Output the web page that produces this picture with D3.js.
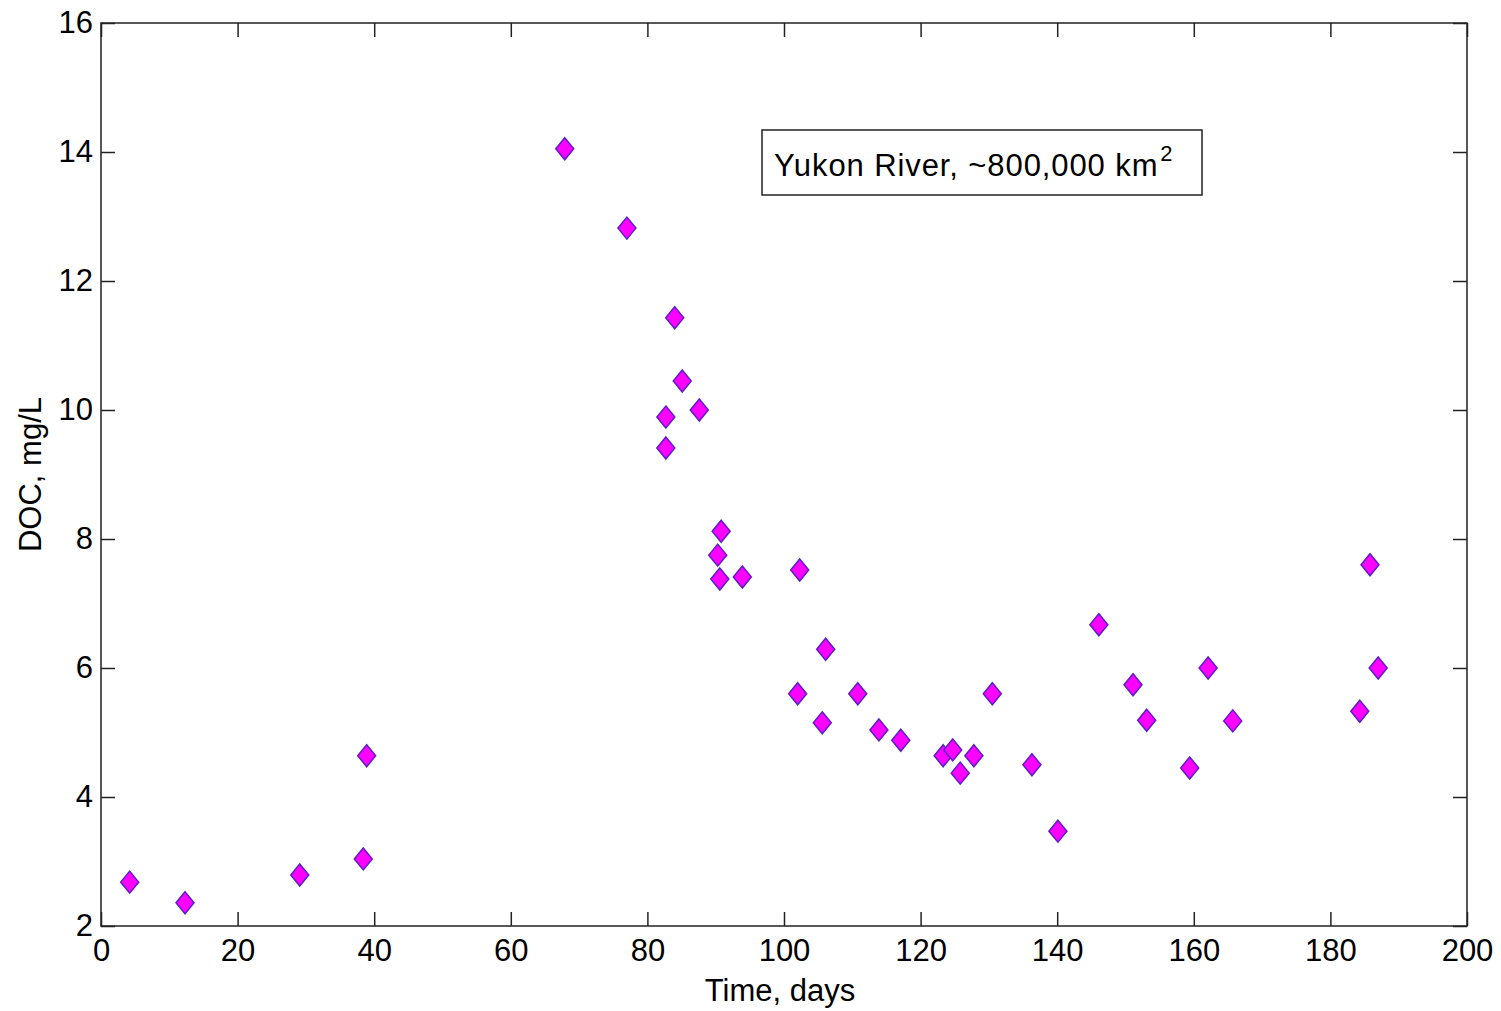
<!DOCTYPE html>
<html>
<head>
<meta charset="utf-8">
<script src="https://cdn.jsdelivr.net/npm/d3@7"></script>
<style>
  html, body { margin: 0; padding: 0; background: #fff; }
  svg { display: block; font-family: "Liberation Sans", Arial, sans-serif; }
</style>
</head>
<body>
<svg id="chart" width="1501" height="1011"></svg>
<script>
// Sampling day and dissolved organic carbon concentration
const days = [4.2, 12.3, 29.1, 38.4, 38.9, 67.9, 77.0, 84.0, 85.1, 82.7, 87.6, 82.7,
  90.8, 90.3, 90.6, 93.9, 102.3, 102.0, 106.1, 105.6, 110.8, 113.9, 117.1, 123.3,
  124.7, 125.8, 127.8, 130.5, 136.3, 140.1, 146.1, 151.1, 153.1, 159.4, 162.1,
  165.7, 184.3, 185.8, 187.0];
const doc = [2.68, 2.36, 2.79, 3.04, 4.64, 14.05, 12.82, 11.43, 10.45, 9.89, 10.0, 9.41,
  8.12, 7.75, 7.38, 7.41, 7.52, 5.60, 6.29, 5.15, 5.60, 5.04, 4.88, 4.64,
  4.73, 4.37, 4.64, 5.60, 4.50, 3.47, 6.67, 5.74, 5.19, 4.45, 6.00,
  5.18, 5.33, 7.60, 6.00];
const xTicks = [0, 20, 40, 60, 80, 100, 120, 140, 160, 180, 200];
const yTicks = [2, 4, 6, 8, 10, 12, 14, 16];
const legendText = "Yukon River, ~800,000 km";

const svg = d3.select("#chart");
const m = { left: 101, right: 1467, top: 23, bottom: 926 };

const x = d3.scaleLinear().domain([0, 200]).range([m.left, m.right]);
const y = d3.scaleLinear().domain([2, 16]).range([m.bottom, m.top]);

const tickLen = 14;
const fs = 31;

// Frame
svg.append("rect")
  .attr("x", m.left).attr("y", m.top)
  .attr("width", m.right - m.left).attr("height", m.bottom - m.top)
  .attr("fill", "#fff").attr("stroke", "#222").attr("stroke-width", 1.5);

// Axes with inward ticks on all four sides
const axisStyle = g => {
  g.select(".domain").remove();
  g.selectAll(".tick line").attr("stroke", "#222").attr("stroke-width", 1.5);
  g.selectAll(".tick text").attr("fill", "#000").style("font-size", fs + "px")
    .style("font-family", "'Liberation Sans', Arial, sans-serif");
};

svg.append("g").attr("transform", `translate(0,${m.bottom})`)
  .call(d3.axisBottom(x).tickValues(xTicks).tickSize(-tickLen).tickPadding(13).tickFormat(d3.format("d")))
  .call(axisStyle);
svg.append("g").attr("transform", `translate(0,${m.top})`)
  .call(d3.axisTop(x).tickValues(xTicks).tickSize(-tickLen).tickFormat(""))
  .call(axisStyle);
svg.append("g").attr("transform", `translate(${m.left},0)`)
  .call(d3.axisLeft(y).tickValues(yTicks).tickSize(-tickLen).tickPadding(8).tickFormat(d3.format("d")))
  .call(axisStyle);
svg.append("g").attr("transform", `translate(${m.right},0)`)
  .call(d3.axisRight(y).tickValues(yTicks).tickSize(-tickLen).tickFormat(""))
  .call(axisStyle);

// Axis titles
svg.append("text")
  .attr("x", 780).attr("y", 1001)
  .attr("text-anchor", "middle").style("font-size", fs + "px")
  .text("Time, days");
svg.append("text")
  .attr("transform", `translate(41,${(m.top + m.bottom) / 2}) rotate(-90)`)
  .attr("text-anchor", "middle").style("font-size", fs + "px")
  .text("DOC, mg/L");

// Diamond markers
const hw = 9, hh = 11;
svg.append("g").selectAll("path")
  .data(days.map((d, i) => [d, doc[i]]))
  .join("path")
  .attr("d", d => {
    const cx = x(d[0]), cy = y(d[1]);
    return `M${cx},${cy - hh}L${cx + hw},${cy}L${cx},${cy + hh}L${cx - hw},${cy}Z`;
  })
  .attr("fill", "#ff00ff")
  .attr("stroke", "#5b1fc8")
  .attr("stroke-width", 1.5);

// Legend box
const lg = svg.append("g");
lg.append("rect")
  .attr("x", 762).attr("y", 130).attr("width", 440).attr("height", 65)
  .attr("fill", "#fff").attr("stroke", "#222").attr("stroke-width", 1.5);
const lt = lg.append("text")
  .attr("x", 774).attr("y", 176).style("font-size", fs + "px")
  .style("letter-spacing", "0.9px");
lt.append("tspan").text(legendText);
lt.append("tspan").attr("dx", 2).attr("dy", -15).style("font-size", "22px").text("2");
</script>
</body>
</html>
